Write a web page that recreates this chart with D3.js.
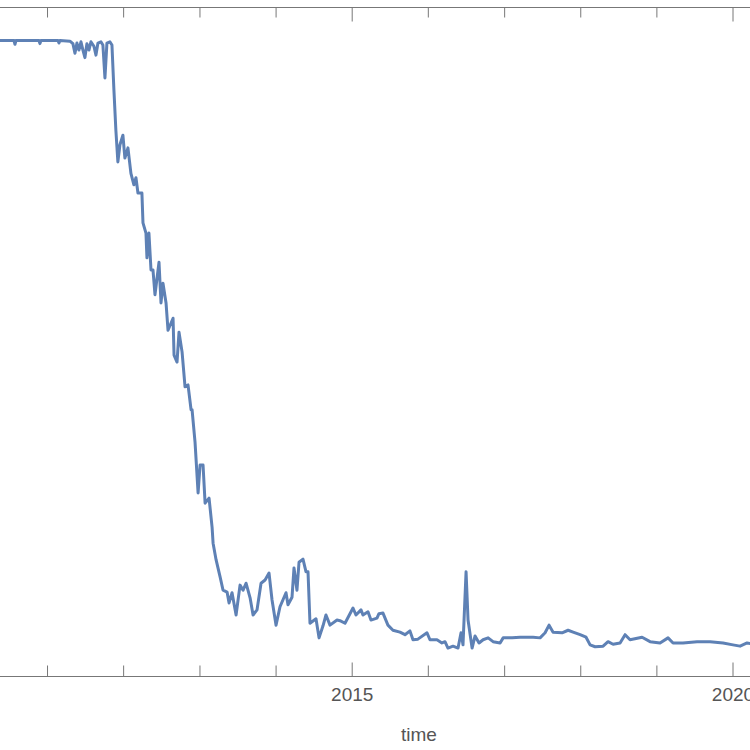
<!DOCTYPE html>
<html>
<head>
<meta charset="utf-8">
<script src="https://cdn.jsdelivr.net/npm/d3@7/dist/d3.min.js"></script>
<style>
  html, body { margin: 0; padding: 0; background: #fff; }
  svg { display: block; }
</style>
</head>
<body>
<svg id="chart" width="750" height="750"></svg>
<script>
// Decimal-year time stamps and values (y axis not shown; values normalised, plateau = 100)
const times = [
  2010.316, 2010.566, 2010.579, 2010.592, 2010.894, 2010.907, 2010.920, 2011.144, 2011.157, 2011.170,
  2011.301, 2011.340, 2011.367, 2011.393, 2011.419, 2011.446, 2011.472, 2011.498, 2011.524, 2011.551,
  2011.577, 2011.616, 2011.643, 2011.669, 2011.708, 2011.734, 2011.761, 2011.787, 2011.826, 2011.853,
  2011.879, 2011.905, 2011.931, 2011.958, 2011.997, 2012.023, 2012.063, 2012.102, 2012.141, 2012.168,
  2012.194, 2012.246, 2012.260, 2012.299, 2012.312, 2012.338, 2012.365, 2012.391, 2012.417, 2012.470,
  2012.496, 2012.522, 2012.562, 2012.588, 2012.654, 2012.667, 2012.706, 2012.732, 2012.772, 2012.811,
  2012.850, 2012.890, 2012.903, 2012.942, 2012.982, 2013.008, 2013.047, 2013.074, 2013.126, 2013.166,
  2013.179, 2013.218, 2013.271, 2013.310, 2013.363, 2013.389, 2013.428, 2013.481, 2013.533, 2013.573,
  2013.612, 2013.665, 2013.704, 2013.756, 2013.809, 2013.862, 2013.914, 2013.953, 2014.006, 2014.058,
  2014.137, 2014.163, 2014.216, 2014.242, 2014.281, 2014.308, 2014.360, 2014.400, 2014.426, 2014.452,
  2014.531, 2014.571, 2014.623, 2014.662, 2014.715, 2014.807, 2014.846, 2014.912, 2015.017, 2015.056,
  2015.122, 2015.148, 2015.214, 2015.253, 2015.332, 2015.358, 2015.411, 2015.476, 2015.542, 2015.634,
  2015.700, 2015.765, 2015.805, 2015.870, 2015.989, 2016.028, 2016.120, 2016.185, 2016.225, 2016.264,
  2016.330, 2016.396, 2016.435, 2016.461, 2016.501, 2016.527, 2016.580, 2016.619, 2016.671, 2016.724,
  2016.790, 2016.855, 2016.947, 2016.987, 2017.105, 2017.210, 2017.381, 2017.472, 2017.538, 2017.590,
  2017.643, 2017.761, 2017.840, 2017.906, 2017.998, 2018.076, 2018.129, 2018.195, 2018.300, 2018.365,
  2018.431, 2018.523, 2018.589, 2018.654, 2018.812, 2018.917, 2019.048, 2019.153, 2019.219, 2019.350,
  2019.534, 2019.705, 2019.876, 2020.006, 2020.099, 2020.191, 2020.297
];
const values = [
  100.0, 100.0, 99.4, 100.0, 100.0, 99.5, 100.0, 100.0, 99.6, 100.0,
  99.9, 99.5, 98.0, 99.6, 98.5, 99.8, 98.5, 97.3, 99.5, 98.5,
  99.8, 99.1, 97.7, 99.6, 99.8, 99.3, 94.1, 99.6, 99.8, 99.3,
  92.2, 85.8, 80.9, 83.6, 85.1, 81.5, 83.1, 79.1, 77.3, 78.4,
  76.0, 76.0, 71.3, 69.7, 65.8, 69.7, 63.9, 63.9, 60.0, 65.1,
  58.7, 61.8, 58.7, 54.4, 56.3, 50.5, 49.4, 54.1, 51.0, 45.5,
  45.8, 41.9, 41.9, 36.8, 28.8, 33.2, 33.2, 27.2, 28.0, 23.4,
  20.9, 18.3, 15.6, 13.5, 13.2, 11.5, 13.1, 9.6, 14.3, 13.5,
  14.6, 12.3, 9.6, 10.4, 14.6, 15.1, 16.2, 12.0, 8.0, 10.9,
  13.1, 11.2, 12.4, 17.0, 13.5, 17.9, 18.4, 16.4, 16.4, 8.3,
  9.0, 6.0, 7.9, 9.6, 8.0, 8.8, 8.7, 8.3, 10.7, 9.6,
  10.4, 9.6, 10.1, 8.8, 9.1, 9.8, 9.9, 8.0, 7.2, 6.9,
  6.5, 7.1, 5.7, 5.8, 6.8, 5.7, 5.7, 5.2, 5.4, 4.4,
  4.7, 4.4, 6.8, 4.9, 16.4, 8.8, 4.4, 6.3, 5.2, 5.7,
  6.0, 5.4, 5.2, 6.0, 6.0, 6.1, 6.1, 6.0, 6.8, 8.0,
  6.9, 6.8, 7.2, 6.9, 6.5, 6.1, 4.9, 4.6, 4.7, 5.4,
  5.0, 5.2, 6.5, 5.7, 6.1, 5.4, 5.2, 6.0, 5.2, 5.2,
  5.4, 5.4, 5.2, 4.9, 4.7, 5.2, 5.0
];
const tickYears = [2010, 2011, 2012, 2013, 2014, 2015, 2016, 2017, 2018, 2019, 2020, 2021];
const labeledYears = [2015, 2020];
const xLabel = "time";

function decToDate(t) {
  const y = Math.floor(t);
  const a = new Date(y, 0, 1).getTime();
  const b = new Date(y + 1, 0, 1).getTime();
  return new Date(a + (t - y) * (b - a));
}

const W = 750, H = 750;
const plotTop = 7, plotBottom = 676;
const svg = d3.select("#chart");

const x = d3.scaleTime()
  .domain([new Date(2015, 0, 1), new Date(2020, 0, 1)])
  .range([351.7, 732.5]);
const y = d3.scaleLinear()
  .domain([0, (plotBottom - plotTop) / 6.355])
  .range([plotBottom, plotTop]);

const data = times.map((t, i) => ({ d: decToDate(t), v: values[i] }));

const frameColor = "#777";
const textColor = "#555";

// frame lines (top and bottom)
svg.append("line").attr("x1", 0).attr("x2", W).attr("y1", plotTop + 0.5).attr("y2", plotTop + 0.5)
  .attr("stroke", frameColor).attr("stroke-width", 1);
svg.append("line").attr("x1", 0).attr("x2", W).attr("y1", plotBottom + 0.5).attr("y2", plotBottom + 0.5)
  .attr("stroke", frameColor).attr("stroke-width", 1);

const tickDates = tickYears.map(yr => new Date(yr, 0, 1));
const isMajor = d => labeledYears.includes(d.getFullYear());

const bottomAxis = d3.axisBottom(x)
  .tickValues(tickDates)
  .tickSizeInner(-11)
  .tickSizeOuter(0)
  .tickPadding(11)
  .tickFormat(d => isMajor(d) ? d3.timeFormat("%Y")(d) : "");
const gb = svg.append("g").attr("transform", `translate(0,${plotBottom + 0.5})`).call(bottomAxis);
gb.select(".domain").remove();
gb.selectAll(".tick line").attr("stroke", frameColor).attr("y2", d => isMajor(d) ? -14 : -11);
gb.selectAll(".tick text").attr("fill", textColor)
  .style("font-family", "'Liberation Sans', Arial, sans-serif").style("font-size", "19px");

const topAxis = d3.axisTop(x)
  .tickValues(tickDates)
  .tickSizeInner(-10)
  .tickSizeOuter(0)
  .tickFormat("");
const gt = svg.append("g").attr("transform", `translate(0,${plotTop + 0.5})`).call(topAxis);
gt.select(".domain").remove();
gt.selectAll(".tick line").attr("stroke", frameColor).attr("y2", d => isMajor(d) ? 14 : 10);

// x label
svg.append("text")
  .attr("x", 419).attr("y", 741)
  .attr("text-anchor", "middle")
  .attr("fill", textColor)
  .style("font-family", "'Liberation Sans', Arial, sans-serif")
  .style("font-size", "19px")
  .text(xLabel);

// series line
const line = d3.line().x(d => x(d.d)).y(d => y(d.v));
svg.append("path")
  .datum(data)
  .attr("d", line)
  .attr("fill", "none")
  .attr("stroke", "#5E81B5")
  .attr("stroke-width", 3)
  .attr("stroke-linejoin", "round")
  .attr("stroke-linecap", "round");
</script>
</body>
</html>
